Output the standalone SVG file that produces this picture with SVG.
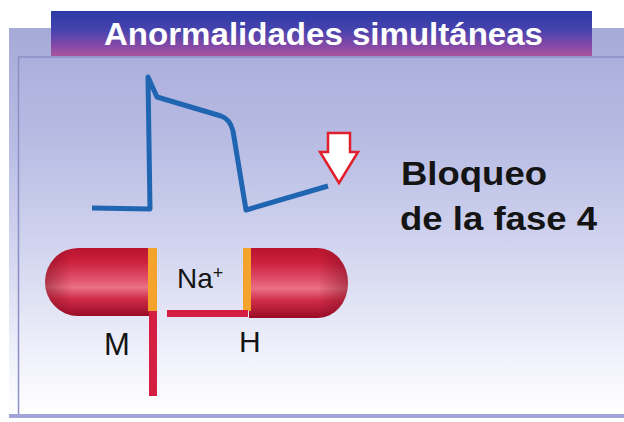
<svg xmlns="http://www.w3.org/2000/svg" width="624" height="422" viewBox="0 0 624 422">
  <defs>
    <linearGradient id="panelGrad" x1="0" y1="0" x2="0" y2="1">
      <stop offset="0" stop-color="#a6aad8"/>
      <stop offset="0.3" stop-color="#b9bde4"/>
      <stop offset="0.6" stop-color="#d5d8f0"/>
      <stop offset="0.82" stop-color="#eeeffa"/>
      <stop offset="0.95" stop-color="#fbfbfe"/>
      <stop offset="1" stop-color="#ffffff"/>
    </linearGradient>
    <linearGradient id="titleGrad" x1="0" y1="0" x2="0" y2="1">
      <stop offset="0" stop-color="#2a3aa6"/>
      <stop offset="0.45" stop-color="#4a44ae"/>
      <stop offset="0.8" stop-color="#8a4aa6"/>
      <stop offset="1" stop-color="#a8569e"/>
    </linearGradient>
    <linearGradient id="tubeGrad" x1="0" y1="0" x2="0" y2="1">
      <stop offset="0" stop-color="#b8142f"/>
      <stop offset="0.2" stop-color="#cc203c"/>
      <stop offset="0.45" stop-color="#e0506a"/>
      <stop offset="0.58" stop-color="#ea7084"/>
      <stop offset="0.75" stop-color="#d02c48"/>
      <stop offset="1" stop-color="#9a0c26"/>
    </linearGradient>
    <linearGradient id="tubeEndL" x1="0" y1="0" x2="1" y2="0">
      <stop offset="0" stop-color="#700818" stop-opacity="0.45"/>
      <stop offset="0.25" stop-color="#700818" stop-opacity="0"/>
      <stop offset="1" stop-color="#700818" stop-opacity="0"/>
    </linearGradient>
    <linearGradient id="tubeEndR" x1="0" y1="0" x2="1" y2="0">
      <stop offset="0" stop-color="#700818" stop-opacity="0"/>
      <stop offset="0.7" stop-color="#700818" stop-opacity="0"/>
      <stop offset="1" stop-color="#700818" stop-opacity="0.45"/>
    </linearGradient>
    <style>
      .label { font-family: "Liberation Sans", Arial, sans-serif; fill: #141414; }
      .big { font-weight: bold; font-size: 34px; }
      .gate { fill: #d41e42; }
      .seal { fill: #f4a42c; }
      .trace { fill: none; stroke: #1f65b2; stroke-width: 5; stroke-linejoin: round; stroke-linecap: butt; }
    </style>
  </defs>

  <!-- page background -->
  <rect x="0" y="0" width="624" height="422" fill="#ffffff"/>

  <!-- outer panel -->
  <rect x="9" y="28" width="615" height="390" fill="url(#panelGrad)"/>
  <!-- inner frame -->
  <path d="M624,57 L18.5,57 L18.5,414" fill="none" stroke="#8a90c4" stroke-width="1.5"/>
  <rect x="9" y="414" width="615" height="4" fill="#a2a4d8"/>

  <!-- title bar -->
  <g id="title">
    <rect x="51" y="11" width="541" height="45" fill="url(#titleGrad)"/>
    <text x="104" y="45" font-family="'Liberation Sans', Arial, sans-serif" font-weight="bold" font-size="31" fill="#ffffff" textLength="439" lengthAdjust="spacingAndGlyphs">Anormalidades simultáneas</text>
  </g>

  <!-- action potential trace -->
  <g id="action-potential">
    <path class="trace" d="M92,208 L150,209 L148,77 L157,97 L221,116 Q230,119 233,131 L246,210 L328,186"/>
  </g>

  <!-- hollow down arrow -->
  <g id="arrow-down">
    <polygon points="328,133 350,133 350,152 358,152 339,183 320,152 328,152" fill="#ffffff" stroke="#e01e2c" stroke-width="2.5" stroke-linejoin="miter"/>
  </g>

  <g id="caption">
    <text class="label big" x="401" y="185" textLength="146" lengthAdjust="spacingAndGlyphs">Bloqueo</text>
    <text class="label big" x="400" y="230" textLength="197" lengthAdjust="spacingAndGlyphs">de la fase 4</text>
  </g>

  <!-- sodium channel -->
  <g id="channel-left">
    <path d="M150,248 L78,248 A33,34 0 0 0 78,316 L150,316 Z" fill="url(#tubeGrad)"/>
    <path d="M150,248 L78,248 A33,34 0 0 0 78,316 L150,316 Z" fill="url(#tubeEndL)"/>
    <rect class="seal" x="148" y="248" width="9" height="63"/>
  </g>
  <g id="channel-right">
    <path d="M249,248 L318,248 A30,35 0 0 1 318,318 L249,318 Z" fill="url(#tubeGrad)"/>
    <path d="M249,248 L318,248 A30,35 0 0 1 318,318 L249,318 Z" fill="url(#tubeEndR)"/>
    <rect class="seal" x="243" y="248" width="8" height="63"/>
  </g>

  <g id="gate-m">
    <rect class="gate" x="149" y="311" width="8" height="85"/>
    <text class="label" x="104" y="355" font-size="31">M</text>
  </g>
  <g id="gate-h">
    <rect class="gate" x="167" y="310" width="81" height="7"/>
    <text class="label" x="239" y="352" font-size="30">H</text>
  </g>
  <g id="ion">
    <text class="label" x="177" y="288" font-size="28">Na<tspan font-size="18" dy="-9">+</tspan></text>
  </g>
</svg>
